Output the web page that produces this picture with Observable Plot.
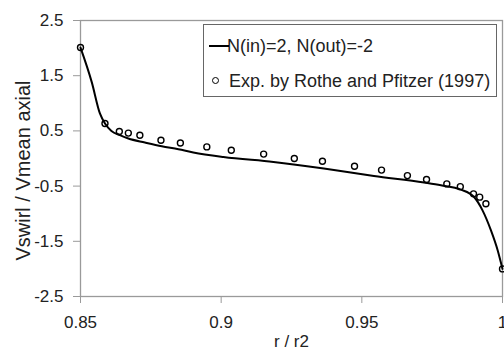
<!DOCTYPE html>
<html>
<head>
<meta charset="utf-8">
<script src="https://cdn.jsdelivr.net/npm/d3@7"></script>
<script src="https://cdn.jsdelivr.net/npm/@observablehq/plot@0.6"></script>
<style>
  html, body { margin: 0; padding: 0; background: #fff; }
  #wrap { position: relative; width: 504px; height: 351px; overflow: hidden; font-family: "Liberation Sans", Arial, sans-serif; color: #222; }
  #legend { position: absolute; left: 203px; top: 24px; width: 294px; height: 73px; border: 1.3px solid #666; background: #fff; box-sizing: border-box; }
  .row { position: absolute; left: 0; height: 20px; display: flex; align-items: center; font-size: 18px; white-space: nowrap; }
  .sym { width: 22px; height: 20px; position: relative; flex: none; }
  .line-sym { position: absolute; left: 4px; width: 20px; top: 9px; height: 2px; background: #000; }
  .dot-sym { position: absolute; left: 5px; top: 6px; width: 5px; height: 5px; border: 1.3px solid #000; border-radius: 50%; }
</style>
</head>
<body>
<div id="wrap">
  <div id="chart"></div>
  <div id="legend">
    <div class="row" style="top:11px;left:1px"><span class="sym"><span class="line-sym"></span></span><span>N(in)=2, N(out)=-2</span></div>
    <div class="row" style="top:46px;left:3px"><span class="sym"><span class="dot-sym"></span></span><span>Exp. by Rothe and Pfitzer (1997)</span></div>
  </div>
</div>
<script>
// Model curve N(in)=2, N(out)=-2
const curveR = [0.85, 0.854, 0.8569, 0.8587, 0.861, 0.864, 0.867, 0.8729, 0.8789, 0.8848, 0.8901, 0.9008, 0.9186, 0.9365, 0.9543, 0.9721, 0.9781, 0.9852, 0.9899, 0.9929, 0.9959, 0.9983, 1.0];
const curveV = [2.01, 1.384, 0.816, 0.634, 0.50, 0.422, 0.362, 0.29, 0.222, 0.168, 0.11, 0.028, -0.063, -0.182, -0.317, -0.436, -0.485, -0.563, -0.698, -0.939, -1.302, -1.665, -2.0];

// Experiment by Rothe and Pfitzer (1997)
const expR = [0.85, 0.8587, 0.8638, 0.867, 0.8711, 0.8786, 0.8855, 0.8949, 0.9036, 0.9151, 0.926, 0.936, 0.9474, 0.957, 0.9662, 0.973, 0.9802, 0.985, 0.9897, 0.9919, 0.9941, 1.0];
const expV = [2.01, 0.634, 0.49, 0.46, 0.42, 0.33, 0.28, 0.21, 0.15, 0.08, 0.0, -0.05, -0.14, -0.21, -0.31, -0.38, -0.46, -0.51, -0.64, -0.70, -0.82, -2.0];

const xTicks = [0.85, 0.9, 0.95, 1];
const yTicks = [-2.5, -1.5, -0.5, 0.5, 1.5, 2.5];
const xTitle = "r / r2";
const yTitle = "Vswirl / Vmean axial";

const curveData = curveR.map((r, i) => ({r, v: curveV[i]}));
const expData = expR.map((r, i) => ({r, v: expV[i]}));

const chart = Plot.plot({
  width: 504,
  height: 351,
  marginLeft: 80,
  marginRight: 2,
  marginTop: 20,
  marginBottom: 55,
  style: {fontFamily: "'Liberation Sans', Arial, sans-serif", fontSize: "17px", color: "#222", background: "#fff", overflow: "visible"},
  x: {domain: [0.85, 1]},
  y: {domain: [-2.5, 2.5]},
  marks: [
    Plot.frame({stroke: "#9a9a9a", strokeWidth: 1.3}),
    Plot.axisX({ticks: xTicks, tickFormat: d => String(d), tickSize: 7, tickPadding: 12, stroke: "#9a9a9a", label: null, fontSize: 17}),
    Plot.axisY({ticks: yTicks, tickFormat: d => String(d), tickSize: 7, tickPadding: 10, stroke: "#9a9a9a", label: null, fontSize: 17}),
    Plot.line(curveData, {x: "r", y: "v", curve: "monotone-x", stroke: "#000", strokeWidth: 2}),
    Plot.dot(expData, {x: "r", y: "v", r: 3, stroke: "#000", fill: "none", strokeWidth: 1.4}),
    Plot.text([xTitle], {text: d => d, frameAnchor: "bottom", dy: 45, lineAnchor: "middle", fontSize: 17, fill: "#222"}),
    Plot.text([yTitle], {text: d => d, frameAnchor: "left", textAnchor: "middle", dx: -57, dy: 12, rotate: -90, lineAnchor: "middle", fontSize: 20, fill: "#222"})
  ]
});
document.getElementById("chart").appendChild(chart);
</script>
</body>
</html>
